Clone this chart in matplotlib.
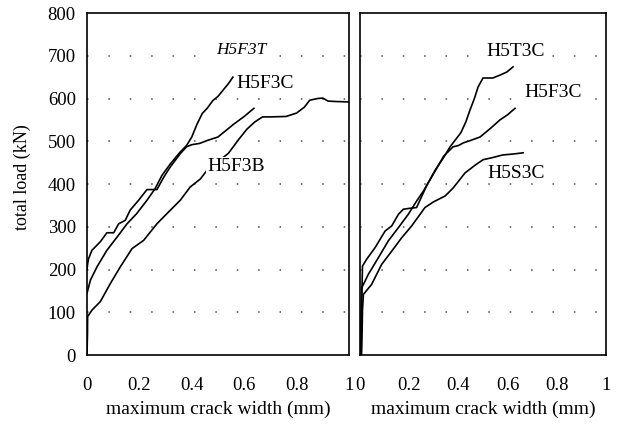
import matplotlib.pyplot as plt

plt.rcParams["font.family"] = ["Liberation Serif", "DejaVu Serif"]

# left panel curves (crack width mm, total load kN)
f3c_x = [0, 0.003, 0.006, 0.019, 0.051, 0.076, 0.102, 0.121, 0.146, 0.165, 0.197,
         0.229, 0.267, 0.293, 0.318, 0.356, 0.38, 0.40, 0.43, 0.46, 0.50, 0.53,
         0.56, 0.60, 0.637]
f3c_y = [200, 215, 225, 245, 265, 286, 286, 307, 315, 339, 362,
         387, 387, 416, 440, 471, 487, 492, 495, 502, 510, 525,
         540, 558, 577]

f3t_x = [0, 0.013, 0.038, 0.076, 0.115, 0.153, 0.19, 0.229, 0.26, 0.286, 0.318,
         0.356, 0.38, 0.40, 0.42, 0.44, 0.46, 0.48, 0.50, 0.52, 0.54, 0.557]
f3t_y = [144, 175, 206, 245, 276, 307, 331, 362, 389, 420, 447,
         475, 490, 510, 540, 565, 578, 595, 605, 620, 635, 650]

f3b_x = [0, 0.002, 0.0025, 0.019, 0.051, 0.089, 0.127, 0.172, 0.216, 0.267, 0.312,
         0.356, 0.394, 0.433, 0.458, 0.50, 0.54, 0.58, 0.61, 0.64, 0.67, 0.70,
         0.76, 0.80, 0.83, 0.85, 0.88, 0.90, 0.92, 0.95, 1.0]
f3b_y = [0, 50, 90, 105, 125, 167, 206, 249, 268, 307, 335,
         362, 393, 412, 432, 452, 472, 505, 528, 545, 557, 557,
         558, 566, 580, 596, 600, 601, 594, 593, 592]

# right panel curves
t3c_x = [0.005, 0.006, 0.01, 0.027, 0.061, 0.102, 0.129, 0.156, 0.176, 0.20, 0.23,
         0.25, 0.27, 0.305, 0.34, 0.366, 0.39, 0.41, 0.43, 0.447, 0.465, 0.48,
         0.50, 0.54, 0.57, 0.597, 0.622]
t3c_y = [0, 100, 208, 224, 251, 290, 302, 329, 341, 343, 345,
         370, 395, 432, 462, 487, 505, 520, 545, 573, 600, 627,
         648, 648, 655, 662, 674]

rf3c_x = [0.003, 0.004, 0.007, 0.034, 0.075, 0.115, 0.156, 0.196, 0.23, 0.257, 0.30,
          0.34, 0.378, 0.40, 0.419, 0.45, 0.488, 0.53, 0.569, 0.60, 0.63]
rf3c_y = [0, 80, 157, 189, 228, 267, 298, 329, 360, 383, 425,
          465, 487, 490, 496, 502, 510, 530, 550, 562, 577]

s3c_x = [0.006, 0.008, 0.01, 0.014, 0.047, 0.088, 0.129, 0.169, 0.21, 0.244, 0.264,
         0.298, 0.346, 0.379, 0.427, 0.47, 0.501, 0.54, 0.58, 0.62, 0.663]
s3c_y = [0, 40, 105, 142, 165, 212, 243, 274, 302, 329, 345,
         358, 372, 391, 426, 445, 457, 462, 468, 470, 473]

x_ticks = [0, 0.2, 0.4, 0.6, 0.8, 1]
x_ticklabels = ["0", "0.2", "0.4", "0.6", "0.8", "1"]
y_ticks = [0, 100, 200, 300, 400, 500, 600, 700, 800]

fig = plt.figure(figsize=(6.19, 4.34), dpi=100)
ax1 = fig.add_axes([0.1405, 0.182, 0.4233, 0.788])
ax2 = fig.add_axes([0.5816, 0.182, 0.3974, 0.788])

fs = 13
for ax in (ax1, ax2):
    ax.set_xlim(0, 1)
    ax.set_ylim(0, 800)
    ax.set_xticks(x_ticks)
    ax.set_xticklabels(x_ticklabels)
    ax.set_yticks(y_ticks)
    ax.tick_params(length=0, labelsize=13.5, pad=16)
    for y in y_ticks[1:-1]:
        ax.axhline(y, color="0.3", lw=1.1, linestyle=(0, (1, 13)), zorder=1)
    for s in ax.spines.values():
        s.set_linewidth(1.2)
    ax.set_xlabel("maximum crack width (mm)", fontsize=14, labelpad=5)

ax1.tick_params(axis="y", pad=8)
ax1.set_ylabel("total load (kN)", fontsize=fs)
ax1.yaxis.set_label_coords(-0.215, 0.52)
ax2.set_yticklabels([])

lw = 1.2
ax1.plot(f3c_x, f3c_y, color="black", lw=lw, zorder=2)
ax1.plot(f3t_x, f3t_y, color="black", lw=lw, zorder=2)
ax1.plot(f3b_x, f3b_y, color="black", lw=lw, zorder=2)

ax2.plot(t3c_x, t3c_y, color="black", lw=lw, zorder=2)
ax2.plot(rf3c_x, rf3c_y, color="black", lw=lw, zorder=2)
ax2.plot(s3c_x, s3c_y, color="black", lw=lw, zorder=2)

box = dict(facecolor="white", edgecolor="none", pad=1)
lf = 14
ax1.text(0.588, 713, "H5F3T", fontsize=12.5, style="italic", ha="center", va="center",
         bbox=box, zorder=3)
ax1.text(0.68, 636, "H5F3C", fontsize=lf, ha="center", va="center", bbox=box, zorder=3)
ax1.text(0.57, 440, "H5F3B", fontsize=lf, ha="center", va="center", bbox=box, zorder=3)
ax2.text(0.634, 711, "H5T3C", fontsize=lf, ha="center", va="center", bbox=box, zorder=3)
ax2.text(0.785, 615, "H5F3C", fontsize=lf, ha="center", va="center", bbox=box, zorder=3)
ax2.text(0.634, 425, "H5S3C", fontsize=lf, ha="center", va="center", bbox=box, zorder=3)

fig.savefig("out.png", dpi=100)
